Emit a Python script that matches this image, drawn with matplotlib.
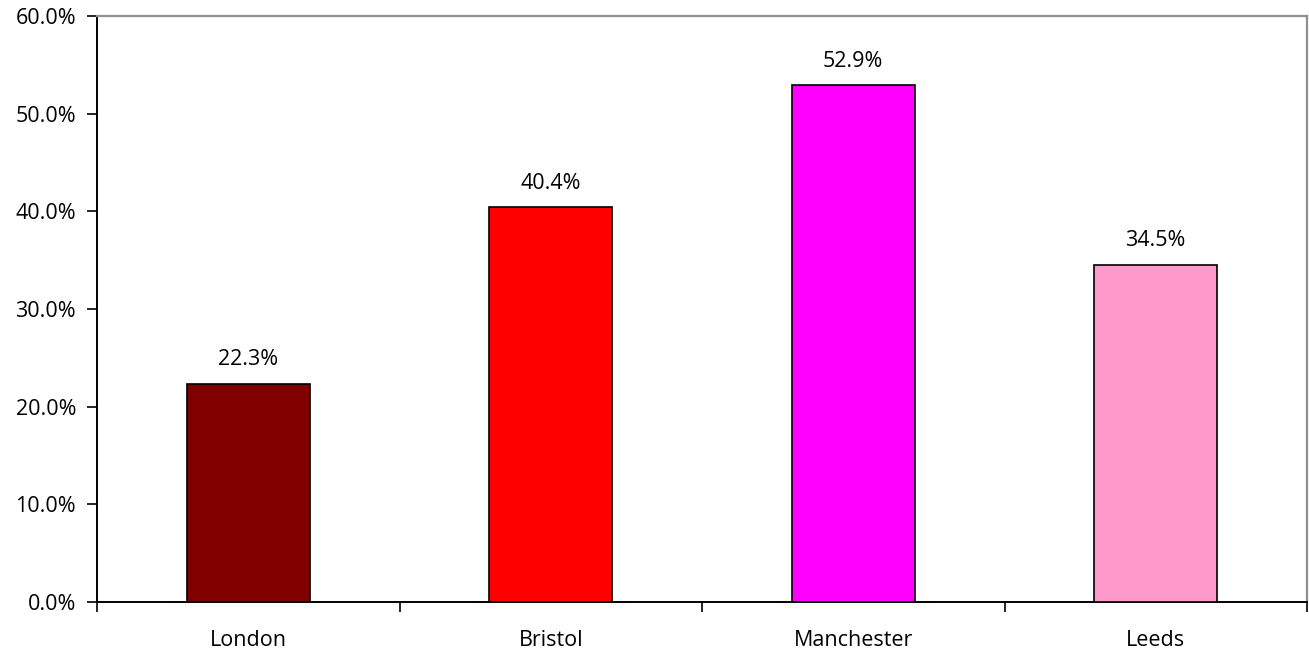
import matplotlib
matplotlib.use("Agg")
import matplotlib.pyplot as plt
from matplotlib.ticker import FuncFormatter, FixedLocator

plt.rcParams['font.family'] = ['Open Sans', 'DejaVu Sans']

categories = ["London", "Bristol", "Manchester", "Leeds"]
values = [22.3, 40.4, 52.9, 34.5]
colors = ["#800000", "#FF0000", "#FF00FF", "#FF99CC"]
yticks = [0, 10, 20, 30, 40, 50, 60]

fig = plt.figure(figsize=(13.09, 6.61), dpi=100)
ax = fig.add_axes([97/1309, (661-602)/661, (1307-97)/1309, (602-16)/661])

x = list(range(len(categories)))
bars = ax.bar(x, values, width=0.405, color=colors, edgecolor="black", linewidth=1.2, zorder=3)

for xi, v in zip(x, values):
    ax.annotate(f"{v:.1f}%", (xi, v), xytext=(0, 13.5), textcoords="offset points",
                ha="center", va="baseline", fontsize=15.5)

ax.set_xlim(-0.5, len(categories) - 0.5)
ax.set_ylim(0, 60)
ax.set_yticks(yticks)
ax.yaxis.set_major_formatter(FuncFormatter(lambda v, p: f"{v:.1f}%"))
ax.tick_params(axis='y', direction='out', length=7, width=1.2, labelsize=15.5, pad=8)

ax.xaxis.set_major_locator(FixedLocator([i - 0.5 for i in range(len(categories) + 1)]))
ax.xaxis.set_minor_locator(FixedLocator(x))
ax.set_xticklabels([], minor=False)
ax.set_xticklabels(categories, minor=True)
ax.tick_params(axis='x', which='major', direction='out', length=7, width=1.2)
ax.tick_params(axis='x', which='minor', length=0, labelsize=15.5, pad=20)

for s in ['left', 'bottom']:
    ax.spines[s].set_color('black')
    ax.spines[s].set_linewidth(1.4)
for s in ['top', 'right']:
    ax.spines[s].set_color('#909090')
    ax.spines[s].set_linewidth(1.6)

fig.savefig("out.png", dpi=100)
